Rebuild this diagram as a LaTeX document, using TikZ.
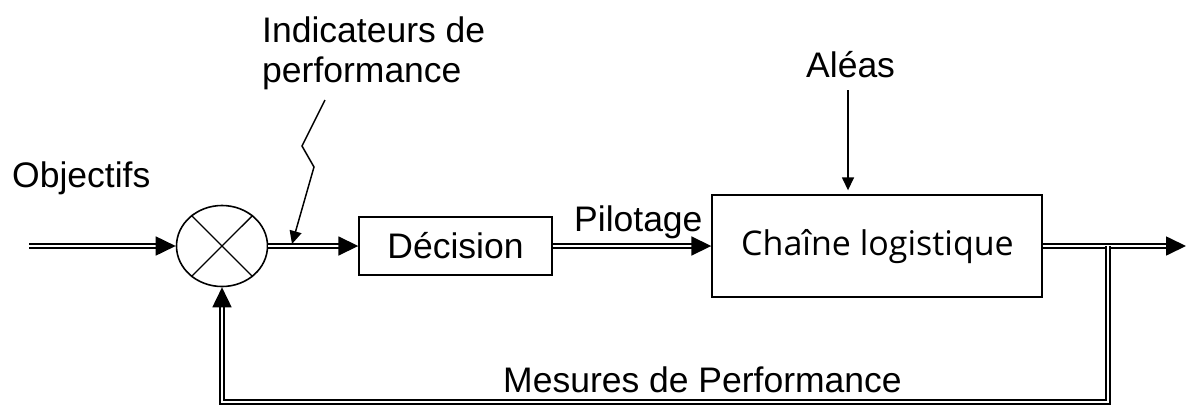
\documentclass[tikz,border=0pt]{standalone}
\usepackage{fontspec}
\setmainfont{Liberation Sans}
\newfontfamily\boxfont{Open Sans}
\usetikzlibrary{arrows.meta,shapes.geometric}
\begin{document}
\begin{tikzpicture}[x=1pt,y=-1pt,
  label text/.style={inner sep=0pt,anchor=base west,font=\fontsize{35.5}{40}\selectfont},
  block/.style={draw,line width=1.4pt,inner sep=0pt},
  dbl/.style={draw,double,line width=1.7pt,double distance=2.3pt},
  bigtip/.style={-{Triangle[length=20pt,width=19pt]}},
  thin link/.style={draw,line width=1.5pt,-{Triangle[length=13pt,width=12pt]}}]
\useasboundingbox (0,0) rectangle (1186,405);

% comparator
\node[draw,ellipse,line width=1.6pt,minimum width=91pt,minimum height=81pt,inner sep=0pt] (s) at (222,246) {};
\draw[line width=1.4pt] (s.45) -- (s.225) (s.135) -- (s.315);

% blocks
\node[block,minimum width=193pt,minimum height=58pt] (dec) at (455.5,246) {};
\node[font=\fontsize{35.5}{40}\selectfont,inner sep=0pt,anchor=base] (dect) at (455.5,258) {Décision};
\node[block,minimum width=330pt,minimum height=102pt] (ch) at (877,246) {};
\node[font=\boxfont\fontsize{34}{40}\selectfont,inner sep=0pt,anchor=base] (cht) at (877.5,255) {Chaîne logistique};

% labels
\node[label text] (obj) at (12,187) {Objectifs};
\node[label text] (ind1) at (262,42) {Indicateurs de};
\node[label text] (ind2) at (262,82) {performance};
\node[label text] (ale) at (806,77) {Aléas};
\node[label text] (pil) at (574,231) {Pilotage};
\node[label text] (mes) at (503,392) {Mesures de Performance};

% free ends
\coordinate (in) at (29,246);
\coordinate (out) at (1186,246);
\coordinate (tap) at (1108,246);
\coordinate (bl) at (222,402);
\coordinate (l1) at (325,100);
\coordinate (l2) at (302,146);
\coordinate (l3) at (314,167);
\coordinate (ltip) at (292,244);
\coordinate (a1) at (848,90);

% main chain
\draw[dbl,bigtip] (in) -- (s.west);
\draw[dbl,bigtip] (s.east) -- (dec.west);
\draw[dbl,bigtip] (dec.east) -- (ch.west);
\draw[dbl,bigtip] (ch.east) -- (out);

% feedback loop
\draw[dbl,bigtip] (tap) |- (bl) -- (s.south);

% disturbance and indicator inputs
\draw[thin link,shorten >=4pt] (a1) -- (a1 |- ch.north);
\draw[thin link] (l1) -- (l2) -- (l3) -- (ltip);
\end{tikzpicture}
\end{document}
